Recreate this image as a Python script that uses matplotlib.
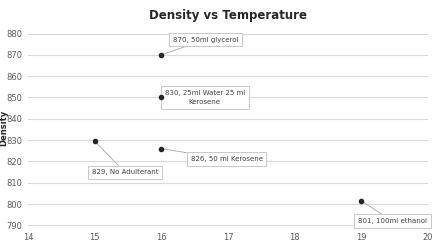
import matplotlib
matplotlib.use("Agg")
import matplotlib.pyplot as plt

# data
temperature = [16, 16, 15, 16, 19]
density = [870, 850, 829.5, 826, 801.5]
labels = ["870, 50ml glycerol", "830, 25ml Water 25 ml\nKerosene",
          "829, No Adulterant", "826, 50 ml Kerosene", "801, 100ml ethanol"]
label_pos = [(16.66, 877.2), (16.65, 850), (15.46, 814.8), (16.98, 821), (19.47, 791.9)]
y_ticks = [790, 800, 810, 820, 830, 840, 850, 860, 870, 880]
x_ticks = [14, 15, 16, 17, 18, 19, 20]

plt.rcParams['font.family'] = ['Liberation Sans Narrow', 'DejaVu Sans']

fig = plt.figure(figsize=(4.34, 2.46), dpi=100)
ax = fig.add_axes([28/434, 1-230/246, 400/434, 197.5/246])

ax.scatter(temperature, density, s=9, color='#262626', zorder=5)

for x, y, txt, (tx, ty) in zip(temperature, density, labels, label_pos):
    ax.annotate(txt, xy=(x, y), xytext=(tx, ty), fontsize=5, color='#404040',
                ha='center', va='center', linespacing=1.7,
                bbox=dict(boxstyle='square,pad=0.55', fc='white', ec='#bfbfbf', lw=0.6),
                arrowprops=dict(arrowstyle='-', color='#a6a6a6', lw=0.6, shrinkA=0, shrinkB=1),
                zorder=4)

ax.set_xlim(14, 20)
ax.set_ylim(787.8, 880.5)
ax.set_xticks(x_ticks)
ax.set_yticks(y_ticks)
ax.tick_params(axis='y', length=0, labelsize=6, colors='#595959', pad=4)
ax.tick_params(axis='x', length=0, labelsize=6, colors='#595959', pad=2)
ax.grid(axis='y', color='#d9d9d9', lw=0.8)
ax.set_axisbelow(True)
for s in ax.spines.values():
    s.set_visible(False)

ax.set_title("Density vs Temperature", fontsize=8.5, fontweight='bold', color='#262626', pad=10)
fig.text(0.008, 0.48, "Density", rotation=90, fontsize=6, fontweight='bold',
         color='#262626', ha='center', va='center')

fig.savefig("out.png", dpi=100)
